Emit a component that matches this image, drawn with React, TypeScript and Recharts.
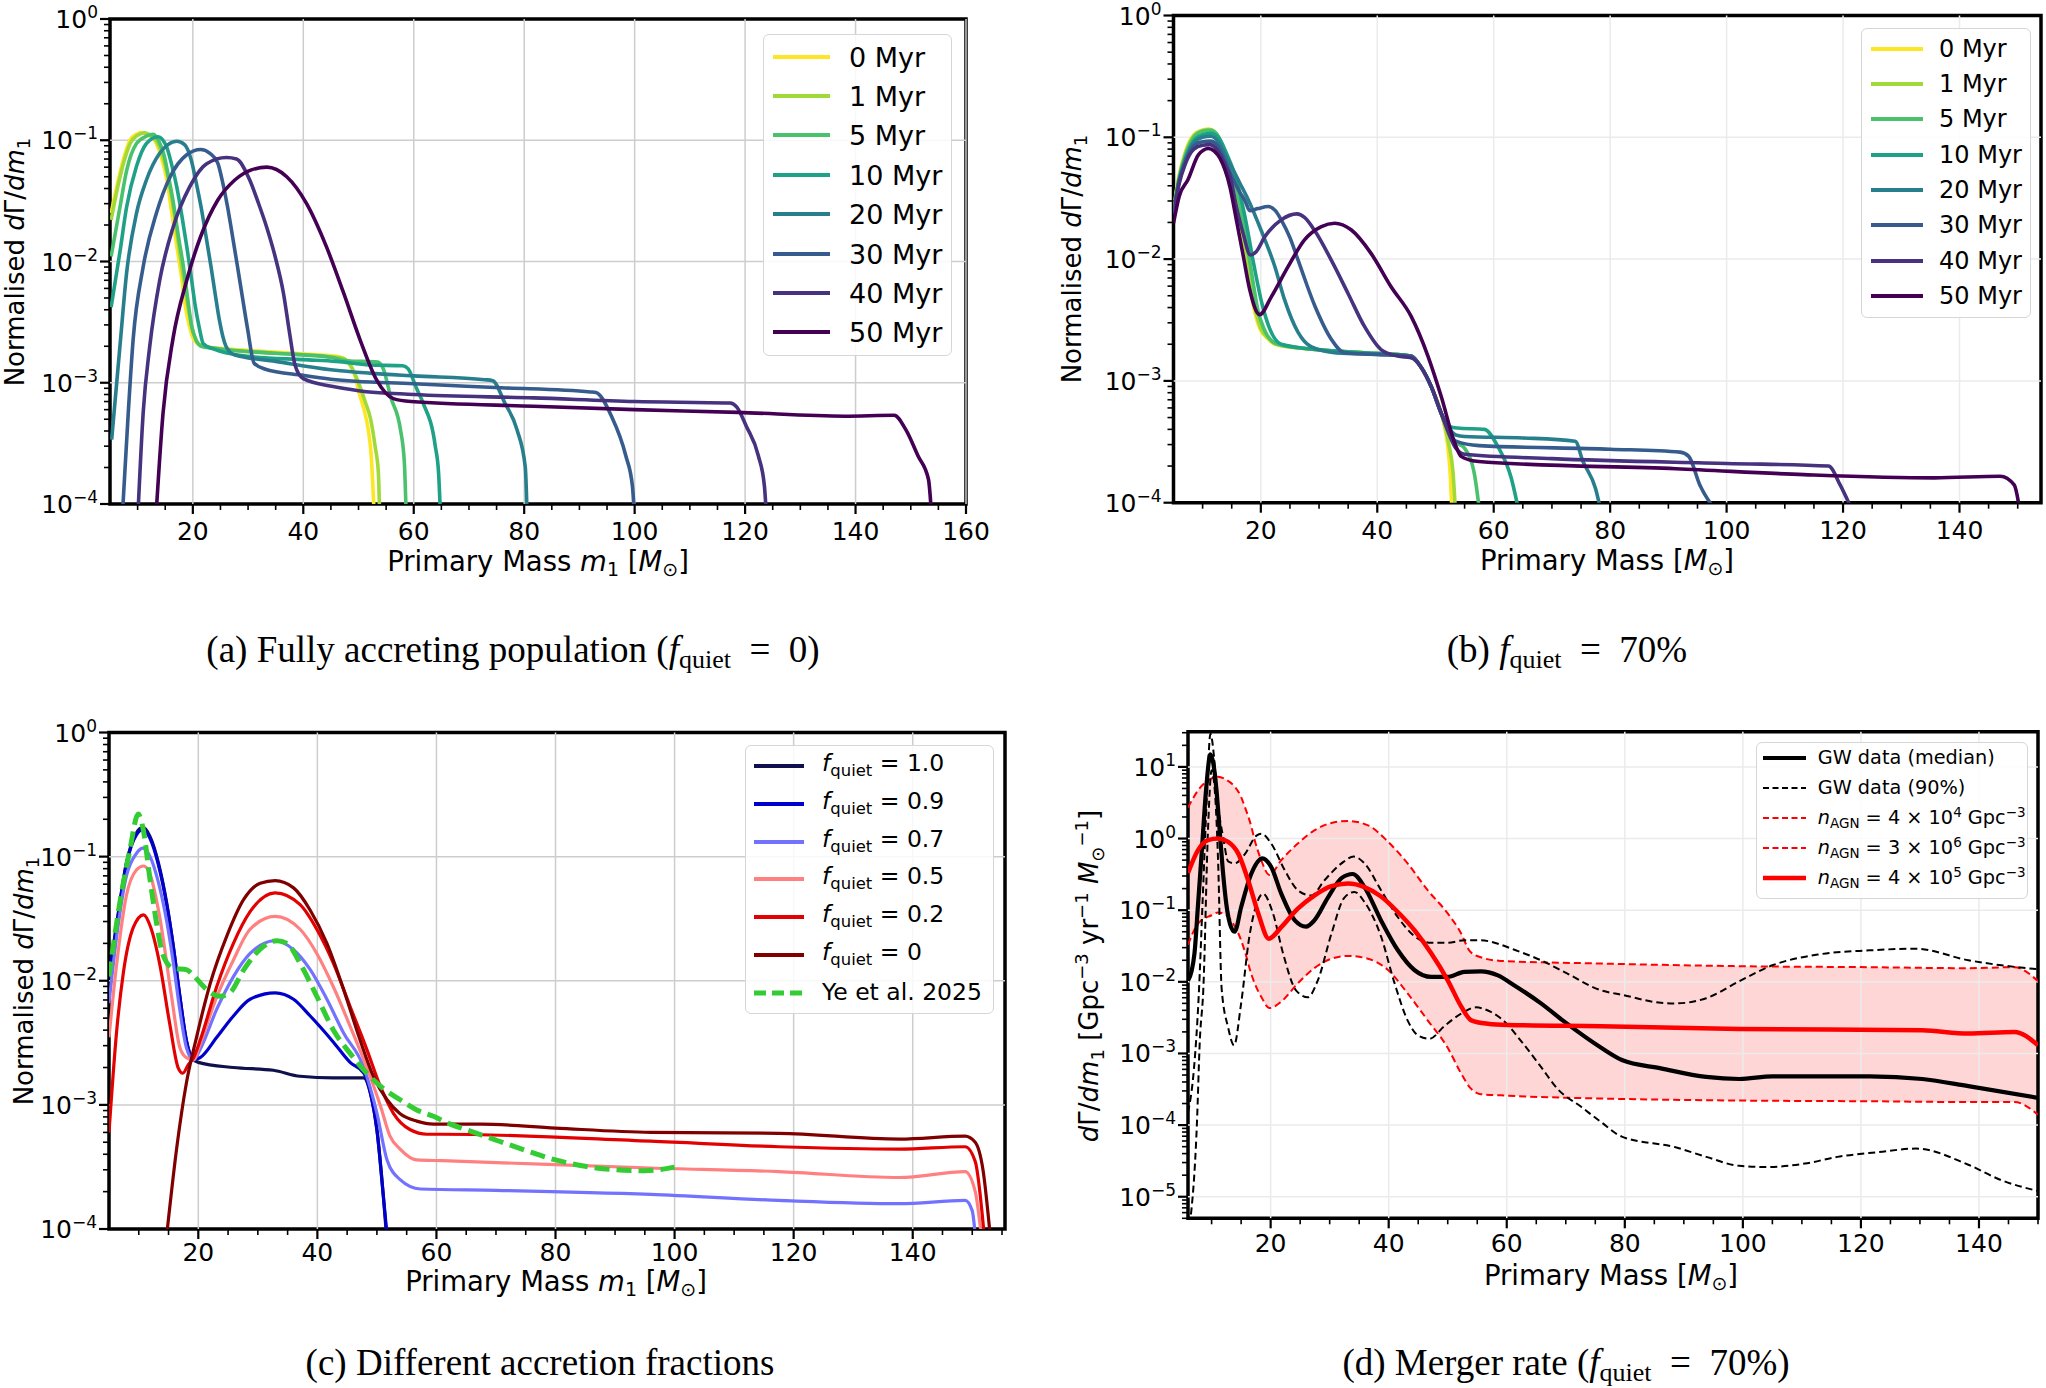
import React from "react";
import {
	Area,
	ComposedChart,
	Legend,
	Line,
	LineChart,
	ReferenceArea,
	ReferenceLine,
	XAxis,
	YAxis,
} from "recharts";

type Pt = [number, number];

const FONT = "'DejaVu Sans', sans-serif";
const SERIF = "'Liberation Serif', serif";

/* ---------- (a) fully accreting population ---------- */
const A_LABELS = ["0 Myr", "1 Myr", "5 Myr", "10 Myr", "20 Myr", "30 Myr", "40 Myr", "50 Myr"];
const VIRIDIS = ["#fde725", "#a0da39", "#4ac16d", "#1fa187", "#277f8e", "#365c8d", "#46327e", "#440154"];

const A_MYR_0: Pt[] = [[5.2, 0.025], [6.5, 0.047], [7.4, 0.069], [8.6, 0.1], [9.8, 0.112], [10.7, 0.116], [12, 0.11], [13.1, 0.1], [14.2, 0.075], [15.3, 0.047], [16.2, 0.025], [17.1, 0.0133], [18, 0.0072], [18.6, 0.0044], [19.4, 0.0029], [20.1, 0.0023], [21.9, 0.002], [30, 0.00185], [40, 0.00173], [46.5, 0.00164], [48, 0.0015], [49.2, 0.0012], [50.2, 8e-4], [51, 6e-4], [51.8, 4e-4], [52.3, 2.5e-4], [52.6, 1.4e-4], [52.8, 9e-5]];
const A_MYR_1: Pt[] = [[5.2, 0.022], [6.5, 0.043], [7.5, 0.066], [8.7, 0.095], [10, 0.11], [11.2, 0.115], [12.5, 0.108], [13.6, 0.095], [14.7, 0.07], [15.8, 0.042], [16.8, 0.022], [17.6, 0.012], [18.5, 0.0065], [19.3, 0.0038], [20.2, 0.0025], [21, 0.0021], [23, 0.00195], [30, 0.0018], [40, 0.0017], [47, 0.0016], [48.5, 0.0014], [50, 0.001], [51.2, 7e-4], [52.2, 5e-4], [53, 3e-4], [53.6, 1.8e-4], [53.8, 9e-5]];
const A_MYR_5: Pt[] = [[5.2, 0.011], [6.8, 0.028], [8, 0.056], [9.8, 0.094], [11.6, 0.108], [12.8, 0.112], [14, 0.095], [14.8, 0.075], [15.6, 0.05], [16.4, 0.032], [17.4, 0.016], [18.3, 0.009], [19.1, 0.0048], [19.8, 0.0029], [20.5, 0.0023], [21.5, 0.002], [25, 0.0019], [35, 0.00175], [45, 0.00162], [48, 0.00152], [53.5, 0.00148], [54.5, 0.0013], [55.8, 7.7e-4], [57.6, 4.1e-4], [58.3, 2.2e-4], [58.6, 9e-5]];
const A_MYR_10: Pt[] = [[5.2, 0.0042], [6.8, 0.012], [8, 0.028], [9.8, 0.061], [11.6, 0.094], [13.7, 0.107], [15.3, 0.087], [16.2, 0.062], [17.1, 0.041], [18, 0.024], [18.9, 0.0133], [19.7, 0.0075], [20.4, 0.0044], [21.2, 0.0028], [21.9, 0.0021], [23.7, 0.0019], [30, 0.00165], [40, 0.00155], [46, 0.0015], [52, 0.0014], [58, 0.00138], [59, 0.0013], [60.5, 9e-4], [61.7, 6.8e-4], [63.9, 3e-4], [64.5, 1.8e-4], [64.8, 9e-5]];
const A_MYR_20: Pt[] = [[5.3, 3.4e-4], [6.8, 0.002], [8, 0.008], [9.8, 0.025], [11.6, 0.047], [14, 0.078], [15.5, 0.092], [17.1, 0.098], [18.5, 0.092], [19.7, 0.069], [20.6, 0.045], [21.5, 0.028], [22.4, 0.016], [23.3, 0.009], [24.1, 0.0052], [24.8, 0.0033], [26, 0.002], [27.5, 0.0017], [35, 0.0015], [45, 0.00128], [52, 0.0012], [60, 0.00114], [72.8, 0.00106], [74.3, 0.00104], [76.5, 6.8e-4], [78.7, 4.1e-4], [80.2, 2e-4], [80.5, 9e-5]];
const A_MYR_30: Pt[] = [[7.3, 9e-5], [8.3, 5.6e-4], [9.2, 0.0023], [11, 0.009], [13.4, 0.025], [15.9, 0.05], [18.9, 0.076], [21.4, 0.084], [23.1, 0.078], [24.5, 0.065], [25.4, 0.045], [26.3, 0.028], [27.2, 0.016], [28.1, 0.009], [29, 0.005], [29.9, 0.0028], [31.1, 0.00145], [33, 0.0013], [40, 0.00115], [45, 0.00107], [60, 9.8e-4], [75.8, 9.1e-4], [92, 8.4e-4], [93, 8.3e-4], [95.8, 5.3e-4], [98.4, 2.5e-4], [99.6, 1.4e-4], [99.9, 9e-5]];
const A_MYR_40: Pt[] = [[10.1, 9e-5], [11, 5.6e-4], [12.2, 0.002], [14, 0.007], [16.4, 0.019], [19.4, 0.041], [22.5, 0.064], [26.1, 0.072], [27.9, 0.07], [30.3, 0.047], [31.8, 0.031], [33.4, 0.019], [34.9, 0.011], [36.4, 0.0055], [37.5, 0.0026], [38.5, 0.0014], [40, 0.00108], [45.4, 9.3e-4], [50, 8.6e-4], [60, 8e-4], [81.7, 7.5e-4], [100, 7e-4], [117.3, 6.8e-4], [118.5, 6.3e-4], [120.2, 4.4e-4], [122.4, 2.5e-4], [123.5, 1.4e-4], [123.8, 9e-5]];
const A_MYR_50: Pt[] = [[13.4, 9e-5], [14.6, 5.6e-4], [16.4, 0.0023], [18.9, 0.007], [21.4, 0.016], [24.5, 0.032], [27.6, 0.047], [30.6, 0.057], [33.4, 0.06], [37, 0.05], [40.6, 0.03], [44.2, 0.0132], [47.3, 0.0055], [50.3, 0.00225], [53.3, 0.00105], [56.3, 7.4e-4], [59.5, 7e-4], [81.7, 6.4e-4], [100, 6e-4], [118.7, 5.7e-4], [138, 5.3e-4], [147, 5.4e-4], [149.1, 4.1e-4], [151.3, 2.5e-4], [153.2, 1.6e-4], [153.7, 9e-5]];

/* ---------- (b) f_quiet = 70% ---------- */
const B_MYR_0: Pt[] = [[5, 0.026], [6, 0.05], [7, 0.075], [8.5, 0.105], [10, 0.115], [11, 0.117], [12, 0.11], [13.5, 0.074], [15, 0.045], [16.4, 0.021], [17.8, 0.0077], [19, 0.0036], [19.8, 0.0027], [21.3, 0.0022], [22.4, 0.002], [30, 0.0018], [37.8, 0.0017], [45.8, 0.0016], [47.5, 0.0013], [49.3, 8.9e-4], [51, 5.4e-4], [52.1, 2.9e-4], [52.5, 1.8e-4], [52.8, 9e-5]];
const B_MYR_1: Pt[] = [[5, 0.025], [6, 0.048], [7, 0.073], [8.5, 0.103], [10, 0.114], [11.2, 0.116], [12.3, 0.108], [13.7, 0.075], [15.2, 0.045], [16.6, 0.021], [18, 0.0078], [19.2, 0.0036], [20, 0.0027], [21.5, 0.0022], [22.6, 0.002], [30, 0.0018], [37.8, 0.0017], [45.8, 0.0016], [47.5, 0.0013], [49.3, 8.9e-4], [51, 5.4e-4], [52.3, 3e-4], [53, 1.8e-4], [53.4, 9e-5]];
const B_MYR_5: Pt[] = [[5, 0.025], [6, 0.047], [7, 0.07], [8.5, 0.1], [10, 0.112], [11.3, 0.114], [12.5, 0.105], [14, 0.072], [15.5, 0.043], [17, 0.02], [18.4, 0.0078], [19.5, 0.0038], [20.5, 0.0027], [22, 0.0021], [23, 0.002], [30, 0.0018], [37.8, 0.0017], [45.8, 0.0016], [47.5, 0.0013], [49.3, 8.9e-4], [51, 5.4e-4], [53.3, 3.2e-4], [55, 2.8e-4], [56.7, 1.7e-4], [57.5, 9e-5]];
const B_MYR_10: Pt[] = [[5, 0.024], [6, 0.045], [7, 0.066], [8.5, 0.094], [10, 0.105], [11.4, 0.108], [12.7, 0.1], [14.2, 0.072], [15.8, 0.045], [17.3, 0.022], [18.8, 0.009], [20.2, 0.0043], [21.5, 0.0027], [23.5, 0.002], [30, 0.0018], [37.8, 0.0017], [45.8, 0.0016], [47.5, 0.0013], [49.3, 8.9e-4], [51, 5.4e-4], [52.5, 4.2e-4], [53.8, 4.1e-4], [58.4, 4e-4], [60.7, 2.9e-4], [63, 1.6e-4], [64.2, 9e-5]];
const B_MYR_20: Pt[] = [[5, 0.024], [6, 0.045], [7, 0.065], [8.5, 0.09], [10, 0.1], [11.4, 0.102], [12.7, 0.092], [14, 0.07], [15, 0.057], [16.4, 0.042], [17.8, 0.031], [20.1, 0.017], [22.4, 0.0087], [24.1, 0.0046], [26.4, 0.0025], [28.7, 0.0019], [33, 0.0017], [40, 0.00165], [45.8, 0.0016], [47.5, 0.0013], [49.3, 8.9e-4], [51, 5.4e-4], [53.5, 3.6e-4], [55, 3.5e-4], [65, 3.4e-4], [74, 3.2e-4], [75.3, 2.2e-4], [77.5, 1.3e-4], [78.3, 9e-5]];
const B_MYR_30: Pt[] = [[5, 0.024], [6, 0.044], [7, 0.062], [8.5, 0.085], [10, 0.092], [11.3, 0.093], [12.6, 0.085], [14, 0.062], [15, 0.048], [16.3, 0.036], [17.3, 0.03], [18.1, 0.025], [19.5, 0.026], [21.3, 0.027], [22.5, 0.025], [23.5, 0.021], [25, 0.015], [26.4, 0.0098], [29.3, 0.0041], [32.1, 0.0022], [34.4, 0.0017], [40, 0.00165], [45.8, 0.0016], [47.5, 0.0013], [49.3, 8.9e-4], [51, 5.4e-4], [53.5, 3.2e-4], [57.5, 2.94e-4], [80, 2.75e-4], [92, 2.6e-4], [93.5, 2.4e-4], [95.4, 1.4e-4], [97.8, 9e-5]];
const B_MYR_40: Pt[] = [[5, 0.023], [6, 0.042], [7, 0.06], [8.5, 0.08], [10, 0.086], [11.2, 0.087], [12.5, 0.079], [14, 0.058], [14.7, 0.048], [15.8, 0.027], [17, 0.016], [18.2, 0.0108], [19.2, 0.0115], [20.7, 0.0153], [23.5, 0.021], [26.2, 0.0235], [27.5, 0.022], [29.3, 0.017], [32.1, 0.0098], [35, 0.0052], [37.8, 0.0028], [40.7, 0.0018], [43.5, 0.0016], [45.8, 0.00155], [47.5, 0.0013], [49.3, 8.9e-4], [51, 5.4e-4], [53.5, 2.8e-4], [55, 2.5e-4], [70, 2.3e-4], [100, 2.1e-4], [117.5, 2e-4], [119.5, 1.4e-4], [121.4, 9e-5]];
const B_MYR_50: Pt[] = [[5, 0.0197], [6, 0.033], [7.5, 0.045], [9.3, 0.072], [11, 0.081], [12, 0.077], [13, 0.067], [14.7, 0.039], [15.8, 0.021], [17, 0.0105], [18.1, 0.0056], [19.8, 0.0035], [21.8, 0.0049], [24.7, 0.0087], [27.5, 0.0144], [30.4, 0.0185], [32.7, 0.0197], [35.5, 0.0174], [38.9, 0.0112], [42.4, 0.0059], [45.8, 0.0034], [48.7, 0.0016], [51, 7.4e-4], [53.3, 3.1e-4], [54.4, 2.4e-4], [56.7, 2.2e-4], [59, 2.15e-4], [91.3, 1.9e-4], [113.3, 1.7e-4], [135.7, 1.6e-4], [147, 1.65e-4], [149.4, 1.4e-4], [150.3, 9e-5]];

/* ---------- (c) different accretion fractions ---------- */
const C_COLORS = ["#10104f", "#0000cc", "#7272ff", "#ff8080", "#e30000", "#800000", "#33cc33"];
const C_LABELS = ["1.0", "0.9", "0.7", "0.5", "0.2", "0"];

const C_FQ_10: Pt[] = [[5, 0.011], [6.3, 0.029], [7.9, 0.088], [9.6, 0.155], [10.7, 0.172], [11.9, 0.145], [13.3, 0.089], [14.7, 0.042], [15.8, 0.019], [16.9, 0.0075], [18, 0.0033], [19.2, 0.0023], [20, 0.0022], [25.9, 0.002], [32.6, 0.0019], [37.1, 0.0017], [42.7, 0.00165], [47.8, 0.00165], [48.8, 0.0013], [50, 6.3e-4], [51.1, 1.8e-4], [51.6, 9e-5]];
const C_FQ_09: Pt[] = [[5, 0.0105], [6.3, 0.028], [7.9, 0.086], [9.6, 0.15], [10.7, 0.165], [11.9, 0.14], [13.3, 0.086], [14.7, 0.041], [15.8, 0.019], [16.9, 0.0075], [18, 0.0033], [19.2, 0.0023], [20.3, 0.0024], [23.1, 0.0035], [25.9, 0.0052], [28.7, 0.0071], [32.9, 0.008], [36, 0.0071], [38.8, 0.0052], [42.7, 0.0032], [45.5, 0.0022], [47.8, 0.0018], [49, 0.0012], [50, 6.3e-4], [51.1, 1.8e-4], [51.7, 9e-5]];
const C_FQ_07: Pt[] = [[5, 0.0066], [6.3, 0.023], [7.9, 0.069], [9.6, 0.106], [10.7, 0.117], [11.9, 0.1], [13.3, 0.062], [14.7, 0.03], [15.8, 0.014], [16.9, 0.0058], [18, 0.0029], [19.2, 0.0023], [20.3, 0.0028], [23.1, 0.0059], [25.9, 0.0108], [28.7, 0.0166], [32.9, 0.021], [36, 0.0178], [38.8, 0.0123], [41.6, 0.0071], [44.4, 0.0038], [47.8, 0.002], [50, 8.6e-4], [51.7, 3.6e-4], [53.9, 2.5e-4], [57.3, 2.1e-4], [70, 2.05e-4], [96, 1.9e-4], [117.5, 1.7e-4], [137.8, 1.6e-4], [148.8, 1.7e-4], [150, 1.4e-4], [150.5, 9e-5]];
const C_FQ_05: Pt[] = [[5, 0.0035], [6.3, 0.0138], [7.9, 0.048], [9.6, 0.078], [10.8, 0.084], [11.9, 0.072], [13.5, 0.033], [15.5, 0.0075], [16.9, 0.0029], [18, 0.0024], [19.2, 0.0023], [20.3, 0.0031], [23.1, 0.0074], [25.9, 0.0147], [28.7, 0.026], [32.9, 0.033], [37.1, 0.026], [39.9, 0.0166], [42.7, 0.0089], [45.5, 0.0043], [48.3, 0.002], [50.6, 9.8e-4], [52.2, 5.6e-4], [53.9, 4.4e-4], [56.7, 3.6e-4], [61, 3.55e-4], [96, 3.1e-4], [117.5, 2.9e-4], [137.8, 2.6e-4], [148.8, 2.9e-4], [150.5, 2e-4], [151.5, 9e-5]];
const C_FQ_02: Pt[] = [[5, 6e-4], [6.3, 0.004], [7.4, 0.0115], [9.1, 0.027], [10.8, 0.034], [12, 0.027], [13.5, 0.0138], [15.2, 0.0045], [16.6, 0.002], [17.4, 0.0018], [18.3, 0.0021], [19.2, 0.0024], [20.3, 0.0033], [23.1, 0.009], [25.9, 0.02], [28.7, 0.036], [32.9, 0.051], [37.1, 0.041], [39.9, 0.026], [42.7, 0.0138], [45.5, 0.0062], [48.3, 0.0028], [50.6, 0.0014], [52.8, 8.5e-4], [55.6, 6.3e-4], [58.4, 5.8e-4], [61, 5.8e-4], [96, 5.1e-4], [117.5, 4.6e-4], [137.8, 4.4e-4], [148.8, 4.6e-4], [150.5, 3.5e-4], [152, 9e-5]];
const C_FQ_00: Pt[] = [[14.7, 9e-5], [16.4, 4.6e-4], [18, 0.0015], [19.7, 0.0035], [22, 0.0095], [24.8, 0.023], [27.6, 0.045], [30.4, 0.061], [32.9, 0.064], [36, 0.056], [38.8, 0.037], [41.6, 0.02], [44.4, 0.0085], [47.2, 0.0033], [49.4, 0.0017], [51.7, 0.0011], [53.9, 8.5e-4], [56.7, 7.4e-4], [59.5, 7e-4], [67.4, 7e-4], [80, 6.5e-4], [96, 6e-4], [117.5, 5.9e-4], [137.8, 5.3e-4], [148.8, 5.6e-4], [150.5, 5e-4], [151.8, 3e-4], [153, 9e-5]];
const C_YE_2025: Pt[] = [[5, 0.0108], [6.8, 0.042], [8.5, 0.113], [9.9, 0.22], [10.7, 0.17], [11.9, 0.065], [13, 0.029], [14.1, 0.016], [15.8, 0.0126], [18, 0.0123], [19.2, 0.011], [21.4, 0.0085], [23.6, 0.0075], [25.3, 0.008], [27.6, 0.0122], [30.4, 0.018], [33.2, 0.021], [34.9, 0.02], [37.1, 0.0138], [39.9, 0.0075], [42.7, 0.004], [45.5, 0.0026], [48.3, 0.0018], [51.1, 0.00135], [53.9, 0.0011], [56.7, 9.1e-4], [59.5, 8.1e-4], [62.3, 7e-4], [65.1, 6.3e-4], [70, 5.2e-4], [75, 4.3e-4], [80, 3.6e-4], [85, 3.2e-4], [90, 3.0e-4], [95, 2.95e-4], [100, 3.15e-4]];

/* ---------- (d) merger rate ---------- */
const D_GW_MEDIAN: Pt[] = [[6, 0.0104], [6.6, 0.014], [7.1, 0.025], [7.7, 0.12], [8.3, 0.6], [9.1, 5.2], [9.8, 15], [10.3, 11], [10.8, 5], [11.3, 1.5], [11.9, 0.36], [12.5, 0.12], [13.1, 0.065], [13.9, 0.05], [15, 0.11], [16.7, 0.32], [18.6, 0.53], [20.1, 0.4], [21.8, 0.17], [24.1, 0.072], [26, 0.059], [27.4, 0.072], [29.7, 0.15], [32, 0.28], [33.9, 0.32], [35.9, 0.21], [38.7, 0.072], [41.5, 0.028], [44.4, 0.0145], [47.2, 0.0117], [50, 0.0117], [52.8, 0.0138], [55.6, 0.014], [58.5, 0.0123], [61.3, 0.0089], [65.8, 0.005], [69.7, 0.0028], [76, 0.0012], [79.5, 8.1e-4], [86.1, 6.2e-4], [93.8, 4.7e-4], [99.4, 4.4e-4], [105, 4.8e-4], [121.5, 4.8e-4], [130.4, 4.4e-4], [138.2, 3.5e-4], [150, 2.4e-4]];
const D_GW_UPPER: Pt[] = [[6, 1.5e-4], [7, 6e-4], [7.8, 0.006], [8.5, 0.15], [9.2, 4], [9.8, 29], [10.4, 14], [10.9, 4.1], [12, 1.0], [12.8, 0.48], [13.9, 0.45], [15.6, 0.6], [17.6, 1.1], [18.4, 1.17], [20.1, 0.85], [22.4, 0.36], [24.6, 0.19], [26.9, 0.16], [29.1, 0.26], [32, 0.45], [34.1, 0.56], [35.9, 0.45], [38.7, 0.19], [41.5, 0.081], [44.4, 0.043], [47.2, 0.035], [50, 0.035], [52.8, 0.038], [55.6, 0.038], [58.5, 0.034], [61.3, 0.028], [65.8, 0.02], [69.7, 0.0138], [76, 0.0076], [79.5, 0.0066], [86.1, 0.0051], [88.6, 0.005], [93.8, 0.0059], [99.4, 0.0102], [105, 0.017], [112.7, 0.024], [121.5, 0.0275], [129.3, 0.029], [138.2, 0.02], [143.8, 0.017], [150, 0.015]];
const D_GW_LOWER: Pt[] = [[6.3, 4e-6], [7.5, 1e-4], [8, 0.0015], [8.6, 0.008], [9.4, 1.4], [10, 9], [10.6, 4], [11.1, 0.48], [11.7, 0.008], [12.8, 0.0023], [13.8, 0.0013], [15, 0.005], [16.4, 0.043], [17.6, 0.12], [18.7, 0.17], [20.4, 0.09], [22.1, 0.025], [24.3, 0.0076], [26.3, 0.0061], [28, 0.0105], [30.3, 0.047], [32.5, 0.15], [34.2, 0.18], [35.9, 0.13], [38.7, 0.043], [41, 0.0095], [43.2, 0.0029], [44.9, 0.0018], [46.9, 0.0016], [49.4, 0.0024], [52.3, 0.0036], [54.8, 0.0044], [57.3, 0.0038], [59.6, 0.0028], [62.4, 0.0015], [65.8, 6.5e-4], [68.6, 3.2e-4], [72.6, 1.8e-4], [76, 1.1e-4], [79.5, 6.9e-5], [88.6, 4.9e-5], [93.8, 3.6e-5], [99.4, 2.7e-5], [104, 2.6e-5], [110.5, 2.9e-5], [116, 3.6e-5], [123, 4.2e-5], [129.3, 4.7e-5], [138.2, 2.8e-5], [143.8, 1.7e-5], [150, 1.2e-5]];
const D_AGN_4E5: Pt[] = [[6, 0.33], [7.7, 0.69], [9.4, 0.95], [11.1, 1.0], [12.8, 0.9], [14.5, 0.62], [16.2, 0.26], [17.9, 0.09], [19.7, 0.04], [21.8, 0.058], [24.6, 0.105], [27.4, 0.16], [30.3, 0.216], [33.1, 0.235], [35.9, 0.21], [38.7, 0.155], [41.5, 0.095], [44.4, 0.052], [47.2, 0.025], [50, 0.0105], [52.3, 0.0045], [54, 0.0029], [56.8, 0.0026], [60.2, 0.0025], [76, 0.0024], [99.4, 0.0022], [130.4, 0.0021], [138.2, 0.0019], [146, 0.002], [150, 0.0013]];
const D_BAND_M = [6, 7.7, 10, 11.1, 12.5, 13.9, 15, 15.6, 16.7, 17.3, 18.4, 19.8, 21.8, 24.6, 27.4, 30.3, 33.1, 36.5, 39.9, 43.2, 46.6, 50, 52.3, 53.7, 55.6, 59, 76, 100, 121.5, 138.2, 146, 150];
const D_AGN_4E4 = [2.7, 4.7, 6.9, 7.3, 6.6, 5.3, 3.8, 2.8, 1.5, 0.95, 0.5, 0.31, 0.5, 0.85, 1.3, 1.65, 1.76, 1.53, 0.9, 0.45, 0.19, 0.09, 0.047, 0.027, 0.022, 0.0196, 0.018, 0.0165, 0.016, 0.0155, 0.016, 0.0102];
const D_AGN_3E6 = [0.033, 0.065, 0.085, 0.093, 0.085, 0.06, 0.038, 0.027, 0.013, 0.0095, 0.0062, 0.0043, 0.0053, 0.0095, 0.0155, 0.021, 0.023, 0.021, 0.0146, 0.0069, 0.0029, 0.0012, 5.2e-4, 3.4e-4, 2.7e-4, 2.6e-4, 2.35e-4, 2.2e-4, 2.15e-4, 2.1e-4, 2.1e-4, 1.4e-4];

/* ---------- axis ticks ---------- */
const X_MAJOR = [20, 40, 60, 80, 100, 120, 140, 160];
const DECADES_NORM = [-4, -3, -2, -1, 0];
const DECADES_RATE = [-6, -5, -4, -3, -2, -1, 0, 1];

const toRows = (pts: Pt[]) => pts.map(([m, v]) => ({ m, v }));

function xTicks(max: number): number[] {
	const out: number[] = [];
	for (let v = 10; v <= max; v += 5) out.push(v);
	return out;
}

function logTicks(decades: number[], lo: number, hi: number): number[] {
	const out: number[] = [];
	decades.forEach((k) => {
		for (let j = 1; j <= 9; j++) {
			const v = j * Math.pow(10, k);
			if (v >= lo * 0.999 && v <= hi * 1.001) out.push(v);
		}
	});
	return out;
}

// bottom ticks point outward; labels only on the multiples of 20
const makeXTick = (labelDy: number) => (props: any) => {
	const { x, y, payload } = props;
	const major = X_MAJOR.includes(payload.value);
	return (
		<g>
			<line x1={x} x2={x} y1={y} y2={y + (major ? 10 : 6)} stroke="#000" strokeWidth={major ? 2.2 : 1.6} />
			{major && (
				<text x={x} y={y + labelDy} textAnchor="middle" fontSize={25} fontFamily={FONT} fill="#000">
					{payload.value}
				</text>
			)}
		</g>
	);
};

const YTick = (props: any) => {
	const { x, y, payload } = props;
	const lg = Math.log10(payload.value);
	const k = Math.round(lg);
	const major = Math.abs(lg - k) < 1e-6;
	return (
		<g>
			<line x1={x - (major ? 10 : 6)} x2={x} y1={y} y2={y} stroke="#000" strokeWidth={major ? 2.2 : 1.6} />
			{major && (
				<text x={x - 12} y={y + 9} textAnchor="end" fontSize={25} fontFamily={FONT} fill="#000">
					10
					<tspan dy={-10} fontSize={17}>
						{k < 0 ? `\u2212${-k}` : String(k)}
					</tspan>
				</text>
			)}
		</g>
	);
};

function gridLines(xs: number[], ys: number[], color: string) {
	return [
		...xs.map((v) => <ReferenceLine key={`gx${v}`} x={v} stroke={color} strokeWidth={1.5} />),
		...ys.map((v) => <ReferenceLine key={`gy${v}`} y={v} stroke={color} strokeWidth={1.5} />),
	];
}

/* ---------- legend ---------- */
interface LegendRow {
	label: React.ReactNode;
	color: string;
	width: number;
	dash?: string;
}

const Sub = ({ children }: { children: React.ReactNode }) => (
	<span style={{ fontSize: "0.7em", verticalAlign: "-0.3em" }}>{children}</span>
);
const Sup = ({ children }: { children: React.ReactNode }) => (
	<span style={{ fontSize: "0.7em", verticalAlign: "0.55em" }}>{children}</span>
);

function LegendBox(p: {
	rows: LegendRow[];
	w: number;
	h: number;
	first: number;
	step: number;
	lineX: number;
	lineLen: number;
	textX: number;
	fontSize: number;
}) {
	return (
		<div
			style={{
				position: "relative",
				width: p.w,
				height: p.h,
				boxSizing: "border-box",
				border: "1.5px solid #d6d6d6",
				borderRadius: 6,
				background: "rgba(255,255,255,0.85)",
				fontFamily: FONT,
				fontSize: p.fontSize,
				color: "#000",
			}}
		>
			{p.rows.map((r, i) => {
				const cy = p.first + i * p.step;
				return (
					<React.Fragment key={i}>
						<svg style={{ position: "absolute", left: p.lineX, top: cy - 6 }} width={p.lineLen} height={12}>
							<line x1={0} x2={p.lineLen} y1={6} y2={6} stroke={r.color} strokeWidth={r.width} strokeDasharray={r.dash} />
						</svg>
						<div
							style={{
								position: "absolute",
								left: p.textX,
								top: cy,
								transform: "translateY(-50%)",
								whiteSpace: "nowrap",
								lineHeight: 1,
							}}
						>
							{r.label}
						</div>
					</React.Fragment>
				);
			})}
		</div>
	);
}

const Fq = ({ v }: { v: string }) => (
	<>
		<i>f</i>
		<Sub>quiet</Sub> = {v}
	</>
);

const Agn = ({ a, e }: { a: string; e: string }) => (
	<>
		<i>n</i>
		<Sub>AGN</Sub> = {a} × 10<Sup>{e}</Sup> Gpc<Sup>−3</Sup>
	</>
);

const A_SERIES = [A_MYR_0, A_MYR_1, A_MYR_5, A_MYR_10, A_MYR_20, A_MYR_30, A_MYR_40, A_MYR_50];
const B_SERIES = [B_MYR_0, B_MYR_1, B_MYR_5, B_MYR_10, B_MYR_20, B_MYR_30, B_MYR_40, B_MYR_50];
const C_SERIES = [C_FQ_10, C_FQ_09, C_FQ_07, C_FQ_05, C_FQ_02, C_FQ_00];

const GRID_DARK = "#cdcdcd";
const GRID_LIGHT = "#ebebeb";

// f_quiet in the serif captions
const CapFq = () => (
	<>
		<tspan fontStyle="italic">f</tspan>
		<tspan fontSize={26} dy={6}>quiet</tspan>
	</>
);

export default function App(): React.ReactElement {
	const bandRows = D_BAND_M.map((m, i) => ({ m, hi: D_AGN_4E4[i], lo: D_AGN_3E6[i] }));
	const yNorm = logTicks(DECADES_NORM, 1e-4, 1);
	const yRate = logTicks(DECADES_RATE, 5e-6, 31);
	// axes get a 1px box: Recharts skips drawing an axis whose width or height is 0
	const axisCommon = { tickSize: 0, tickMargin: 0, tickLine: false, axisLine: false, interval: 0 as const };
	const XTickTop = makeXTick(36);
	const XTickC = makeXTick(32);
	const XTickD = makeXTick(34);

	return (
		<div style={{ position: "absolute", left: 0, top: 0, width: 2046, height: 1388, background: "#fff", overflow: "hidden" }}>
			{/* (a) */}
			<div style={{ position: "absolute", left: 0, top: 0 }}>
				<LineChart width={1000} height={600} margin={{ top: 19, left: 109, right: 34, bottom: 95 }}>
					<XAxis dataKey="m" type="number" domain={[5, 160]} allowDataOverflow ticks={xTicks(160)} height={1} tick={XTickTop} {...axisCommon} />
					<YAxis type="number" scale="log" domain={[1e-4, 1]} allowDataOverflow ticks={yNorm} width={1} tick={YTick} {...axisCommon} />
					{gridLines(X_MAJOR, [1e-3, 1e-2, 1e-1], GRID_DARK)}
					{A_SERIES.map((pts, i) => (
						<Line key={A_LABELS[i]} data={toRows(pts)} dataKey="v" type="monotone" stroke={VIRIDIS[i]} strokeWidth={3.6} dot={false} isAnimationActive={false} />
					))}
					<ReferenceArea x1={5} x2={160} y1={1e-4} y2={1} fill="none" stroke="#000" strokeWidth={3.5} />
					<Legend
						verticalAlign="middle"
						align="center"
						layout="horizontal"
						wrapperStyle={{ left: 763, top: 34, width: 189, height: 322 }}
						content={() => (
							<LegendBox
								rows={A_LABELS.map((l, i) => ({ label: l, color: VIRIDIS[i], width: 4 }))}
								w={189}
								h={322}
								first={21.5}
								step={39.4}
								lineX={9}
								lineLen={57}
								textX={85}
								fontSize={27}
							/>
						)}
					/>
				</LineChart>
			</div>

			{/* (b) */}
			<div style={{ position: "absolute", left: 1020, top: 0 }}>
				<LineChart width={1026} height={600} margin={{ top: 15.5, left: 152.5, right: 5, bottom: 96.3 }}>
					<XAxis dataKey="m" type="number" domain={[5, 154]} allowDataOverflow ticks={xTicks(154)} height={1} tick={XTickTop} {...axisCommon} />
					<YAxis type="number" scale="log" domain={[1e-4, 1]} allowDataOverflow ticks={yNorm} width={1} tick={YTick} {...axisCommon} />
					{gridLines(X_MAJOR.filter((v) => v < 154), [1e-3, 1e-2, 1e-1], GRID_LIGHT)}
					{B_SERIES.map((pts, i) => (
						<Line key={A_LABELS[i]} data={toRows(pts)} dataKey="v" type="monotone" stroke={VIRIDIS[i]} strokeWidth={3.6} dot={false} isAnimationActive={false} />
					))}
					<ReferenceArea x1={5} x2={154} y1={1e-4} y2={1} fill="none" stroke="#000" strokeWidth={3.5} />
					<Legend
						verticalAlign="middle"
						align="center"
						layout="horizontal"
						wrapperStyle={{ left: 841, top: 27.6, width: 170, height: 290 }}
						content={() => (
							<LegendBox
								rows={A_LABELS.map((l, i) => ({ label: l, color: VIRIDIS[i], width: 4 }))}
								w={170}
								h={290}
								first={20.2}
								step={35.3}
								lineX={8.5}
								lineLen={52}
								textX={77}
								fontSize={24}
							/>
						)}
					/>
				</LineChart>
			</div>

			{/* (c) */}
			<div style={{ position: "absolute", left: 0, top: 700 }}>
				<LineChart width={1010} height={688} margin={{ top: 32.5, left: 108, right: 5, bottom: 158 }}>
					<XAxis dataKey="m" type="number" domain={[5, 155.5]} allowDataOverflow ticks={xTicks(155)} height={1} tick={XTickC} {...axisCommon} />
					<YAxis type="number" scale="log" domain={[1e-4, 1]} allowDataOverflow ticks={yNorm} width={1} tick={YTick} {...axisCommon} />
					{gridLines(X_MAJOR.filter((v) => v < 155), [1e-3, 1e-2, 1e-1], GRID_DARK)}
					{C_SERIES.map((pts, i) => (
						<Line key={C_LABELS[i]} data={toRows(pts)} dataKey="v" type="monotone" stroke={C_COLORS[i]} strokeWidth={3.2} dot={false} isAnimationActive={false} />
					))}
					<Line data={toRows(C_YE_2025)} dataKey="v" type="monotone" stroke={C_COLORS[6]} strokeWidth={5} strokeDasharray="15 7" dot={false} isAnimationActive={false} />
					<ReferenceArea x1={5} x2={155.5} y1={1e-4} y2={1} fill="none" stroke="#000" strokeWidth={3.5} />
					<Legend
						verticalAlign="middle"
						align="center"
						layout="horizontal"
						wrapperStyle={{ left: 745, top: 45.2, width: 248.5, height: 268.5 }}
						content={() => (
							<LegendBox
								rows={[
									...C_LABELS.map((l, i) => ({ label: <Fq v={l} />, color: C_COLORS[i], width: 4 })),
									{ label: "Ye et al. 2025", color: C_COLORS[6], width: 5, dash: "12 6" },
								]}
								w={248.5}
								h={268.5}
								first={19.8}
								step={37.8}
								lineX={8.4}
								lineLen={50}
								textX={76}
								fontSize={23.5}
							/>
						)}
					/>
				</LineChart>
			</div>

			{/* (d) */}
			<div style={{ position: "absolute", left: 1020, top: 700 }}>
				<ComposedChart width={1026} height={688} data={bandRows} margin={{ top: 31.7, left: 167, right: 8, bottom: 168.7 }}>
					<XAxis dataKey="m" type="number" domain={[6, 150]} allowDataOverflow ticks={xTicks(150)} height={1} tick={XTickD} {...axisCommon} />
					<YAxis type="number" scale="log" domain={[5e-6, 31]} allowDataOverflow ticks={yRate} width={1} tick={YTick} {...axisCommon} />
					{gridLines(X_MAJOR.filter((v) => v < 150), [1e-5, 1e-4, 1e-3, 1e-2, 1e-1, 1, 10], GRID_LIGHT)}
					<Area dataKey={(r: any) => [r.lo, r.hi]} type="monotone" fill="#ff0000" fillOpacity={0.16} stroke="none" isAnimationActive={false} />
					<Line dataKey="hi" type="monotone" stroke="#ff0000" strokeWidth={2} strokeDasharray="7 4" dot={false} isAnimationActive={false} />
					<Line dataKey="lo" type="monotone" stroke="#ff0000" strokeWidth={2} strokeDasharray="7 4" dot={false} isAnimationActive={false} />
					<Line data={toRows(D_GW_UPPER)} dataKey="v" type="monotone" stroke="#000" strokeWidth={2} strokeDasharray="7 4" dot={false} isAnimationActive={false} />
					<Line data={toRows(D_GW_LOWER)} dataKey="v" type="monotone" stroke="#000" strokeWidth={2} strokeDasharray="7 4" dot={false} isAnimationActive={false} />
					<Line data={toRows(D_GW_MEDIAN)} dataKey="v" type="monotone" stroke="#000" strokeWidth={4.2} dot={false} isAnimationActive={false} />
					<Line data={toRows(D_AGN_4E5)} dataKey="v" type="monotone" stroke="#ff0000" strokeWidth={4.5} dot={false} isAnimationActive={false} />
					<ReferenceArea x1={6} x2={150} y1={5e-6} y2={31} fill="none" stroke="#000" strokeWidth={3.5} />
					<Legend
						verticalAlign="middle"
						align="center"
						layout="horizontal"
						wrapperStyle={{ left: 736, top: 41.7, width: 271.7, height: 157.3 }}
						content={() => (
							<LegendBox
								rows={[
									{ label: "GW data (median)", color: "#000", width: 4.2 },
									{ label: "GW data (90%)", color: "#000", width: 2, dash: "6 3.5" },
									{ label: <Agn a="4" e="4" />, color: "#ff0000", width: 2, dash: "6 3.5" },
									{ label: <Agn a="3" e="6" />, color: "#ff0000", width: 2, dash: "6 3.5" },
									{ label: <Agn a="4" e="5" />, color: "#ff0000", width: 4.5 },
								]}
								w={271.7}
								h={157.3}
								first={15}
								step={30}
								lineX={5.7}
								lineLen={43}
								textX={60.7}
								fontSize={19.3}
							/>
						)}
					/>
				</ComposedChart>
			</div>

			{/* axis titles and captions */}
			<svg width={2046} height={1388} style={{ position: "absolute", left: 0, top: 0, pointerEvents: "none" }} fontFamily={FONT} fill="#000">
				<text x={538} y={571} textAnchor="middle" fontSize={27.5}>
					{"Primary Mass "}
					<tspan fontStyle="italic">m</tspan>
					<tspan fontSize={19} dy={5}>1</tspan>
					<tspan dy={-5}>{" ["}</tspan>
					<tspan fontStyle="italic">M</tspan>
					<tspan fontSize={19} dy={5}>⊙</tspan>
					<tspan dy={-5}>]</tspan>
				</text>
				<text x={1607} y={570} textAnchor="middle" fontSize={27.5}>
					{"Primary Mass ["}
					<tspan fontStyle="italic">M</tspan>
					<tspan fontSize={19} dy={5}>⊙</tspan>
					<tspan dy={-5}>]</tspan>
				</text>
				<text x={556} y={1291} textAnchor="middle" fontSize={27.5}>
					{"Primary Mass "}
					<tspan fontStyle="italic">m</tspan>
					<tspan fontSize={19} dy={5}>1</tspan>
					<tspan dy={-5}>{" ["}</tspan>
					<tspan fontStyle="italic">M</tspan>
					<tspan fontSize={19} dy={5}>⊙</tspan>
					<tspan dy={-5}>]</tspan>
				</text>
				<text x={1611} y={1285} textAnchor="middle" fontSize={27.5}>
					{"Primary Mass ["}
					<tspan fontStyle="italic">M</tspan>
					<tspan fontSize={19} dy={5}>⊙</tspan>
					<tspan dy={-5}>]</tspan>
				</text>

				{[
					[24, 262],
					[1081, 259],
					[33, 981],
				].map(([x, y]) => (
					<text key={`yl${x}`} transform={`translate(${x},${y}) rotate(-90)`} textAnchor="middle" fontSize={26}>
						{"Normalised "}
						<tspan fontStyle="italic">d</tspan>
						{"Γ/"}
						<tspan fontStyle="italic">dm</tspan>
						<tspan fontSize={18} dy={6}>1</tspan>
					</text>
				))}
				<text transform="translate(1098,976) rotate(-90)" textAnchor="middle" fontSize={26}>
					<tspan fontStyle="italic">d</tspan>
					{"Γ/"}
					<tspan fontStyle="italic">dm</tspan>
					<tspan fontSize={18} dy={6}>1</tspan>
					<tspan dy={-6}>{" [Gpc"}</tspan>
					<tspan fontSize={18} dy={-10}>−3</tspan>
					<tspan dy={10}>{" yr"}</tspan>
					<tspan fontSize={18} dy={-10}>−1</tspan>
					<tspan dy={10}> </tspan>
					<tspan fontStyle="italic">M</tspan>
					<tspan fontSize={18} dy={6}>⊙</tspan>
					<tspan fontSize={18} dy={-16}>−1</tspan>
					<tspan dy={10}>]</tspan>
				</text>

				<g fontFamily={SERIF} fontSize={37}>
					<text x={513} y={662} textAnchor="middle">
						{"(a) Fully accreting population ("}
						<CapFq />
						<tspan dy={-6}>{"\u2002=\u20020)"}</tspan>
					</text>
					<text x={1567} y={662} textAnchor="middle">
						{"(b) "}
						<CapFq />
						<tspan dy={-6}>{"\u2002=\u200270%"}</tspan>
					</text>
					<text x={540} y={1375} textAnchor="middle">
						(c) Different accretion fractions
					</text>
					<text x={1566} y={1375} textAnchor="middle">
						{"(d) Merger rate ("}
						<CapFq />
						<tspan dy={-6}>{"\u2002=\u200270%)"}</tspan>
					</text>
				</g>
			</svg>
		</div>
	);
}
